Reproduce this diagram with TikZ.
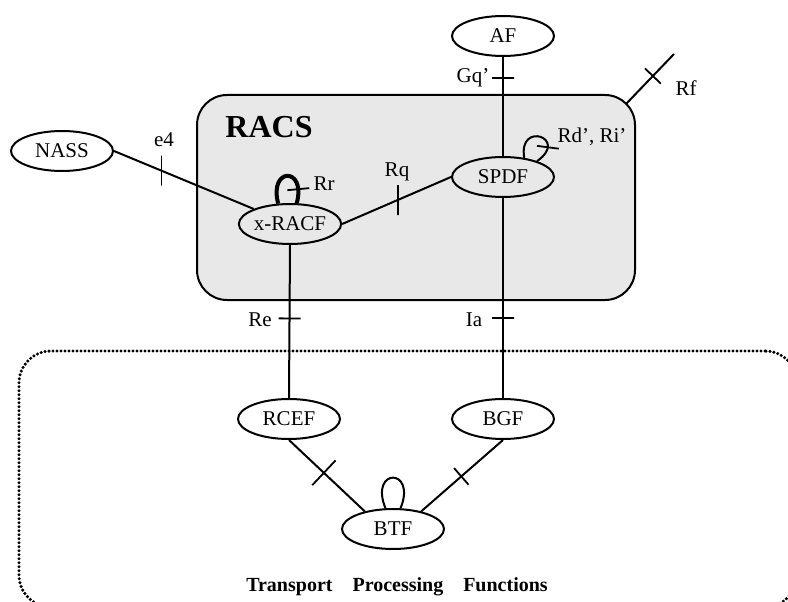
\documentclass[tikz,border=0pt]{standalone}
\usepackage{fontspec}
\setmainfont{Liberation Serif}
\usetikzlibrary{shapes.geometric}
\definecolor{racsgray}{RGB}{232,232,232}

\tikzstyle{func} = [ellipse, draw, minimum width=102pt, minimum height=40pt, inner sep=0pt]
\tikzstyle{lbl} = [inner sep=0pt]
\tikzstyle{crossbar} = [sloped, draw, line width=1.8pt, inner sep=0pt, outer sep=0pt, minimum width=0pt, minimum height=22pt]
\tikzstyle{vcrossbar} = [draw, line width=1.8pt, inner sep=0pt, outer sep=0pt, minimum width=0pt, minimum height=30pt]
\tikzstyle{racsbox} = [draw, fill=racsgray, rounded corners=30pt, minimum width=438pt, minimum height=205pt]
\tikzstyle{tpfbox} = [draw, line width=3.4pt, line cap=round, dash pattern=on 0pt off 4pt, rounded corners=32pt, minimum width=778pt, minimum height=256pt]

\begin{document}
\begin{tikzpicture}[x=1pt, y=-1pt, line width=2pt, font=\fontsize{21}{25}\selectfont]
\useasboundingbox (0,0) rectangle (788,602);
%boxes
\node[racsbox] (racs) at (416,197.5) {};
\node[lbl, font=\fontsize{32}{37}\selectfont\bfseries] (racstitle) at (269,127) {RACS};
\node[tpfbox] (tpf) at (408,479) {};
\node[lbl, font=\fontsize{20}{24}\selectfont\bfseries] (tpftitle) at (397,587) {Transport\quad Processing\quad Functions};
%functions
\node[func] (af) at (503,36) {AF};
\node[func] (nass) at (62,151) {NASS};
\node[func] (spdf) at (503,177) {SPDF};
\node[func] (xracf) at (290,224) {x-RACF};
\node[func] (rcef) at (289,419) {RCEF};
\node[func] (bgf) at (503,419) {BGF};
\node[func] (btf) at (393,529) {BTF};
%begin reference points
\draw (af.south) -- node[pos=0.21, crossbar] {} (spdf.north);
\node[lbl] (gqlbl) at (473,78) {Gq’};
\draw (nass.east) -- node[pos=0.34, vcrossbar] {} (xracf);
\node[lbl] (e4lbl) at (164,140) {e4};
\draw (xracf.east) -- node[pos=0.51, vcrossbar] {} (spdf.west);
\node[lbl] (rqlbl) at (397,172) {Rq};
\draw (xracf.south) -- node[pos=0.48, crossbar] {} (rcef.north);
\node[lbl] (relbl) at (260,320) {Re};
\draw (spdf.south) -- node[pos=0.6, crossbar] {} (bgf.north);
\node[lbl] (ialbl) at (474,320) {Ia};
\draw (rcef.south) -- node[pos=0.46, crossbar, minimum height=34pt] {} (btf.148);
\draw (bgf.south) -- node[pos=0.51, crossbar] {} (btf.32);
%end reference points
%begin Rf
\coordinate (rfstart) at (626,104);
\coordinate (rfend) at (674,54);
\draw (rfstart) -- node[pos=0.56, crossbar] {} (rfend);
\node[lbl] (rflbl) at (686,88) {Rf};
%end Rf
%begin loops
\draw[line width=4pt] (xracf.120) .. controls +(105:38pt) and +(75:38pt) .. node[pos=0.85, crossbar] {} (xracf.72);
\node[lbl] (rrlbl) at (324,184) {Rr};
\draw (spdf.42) .. controls +(100:38pt) and +(35:40pt) .. node[pos=0.78, crossbar] {} (spdf.25);
\node[lbl] (rdlbl) at (592,137) {Rd’, Ri’};
\draw (btf.110) .. controls +(112:44pt) and +(68:44pt) .. (btf.70);
%end loops
\end{tikzpicture}
\end{document}
